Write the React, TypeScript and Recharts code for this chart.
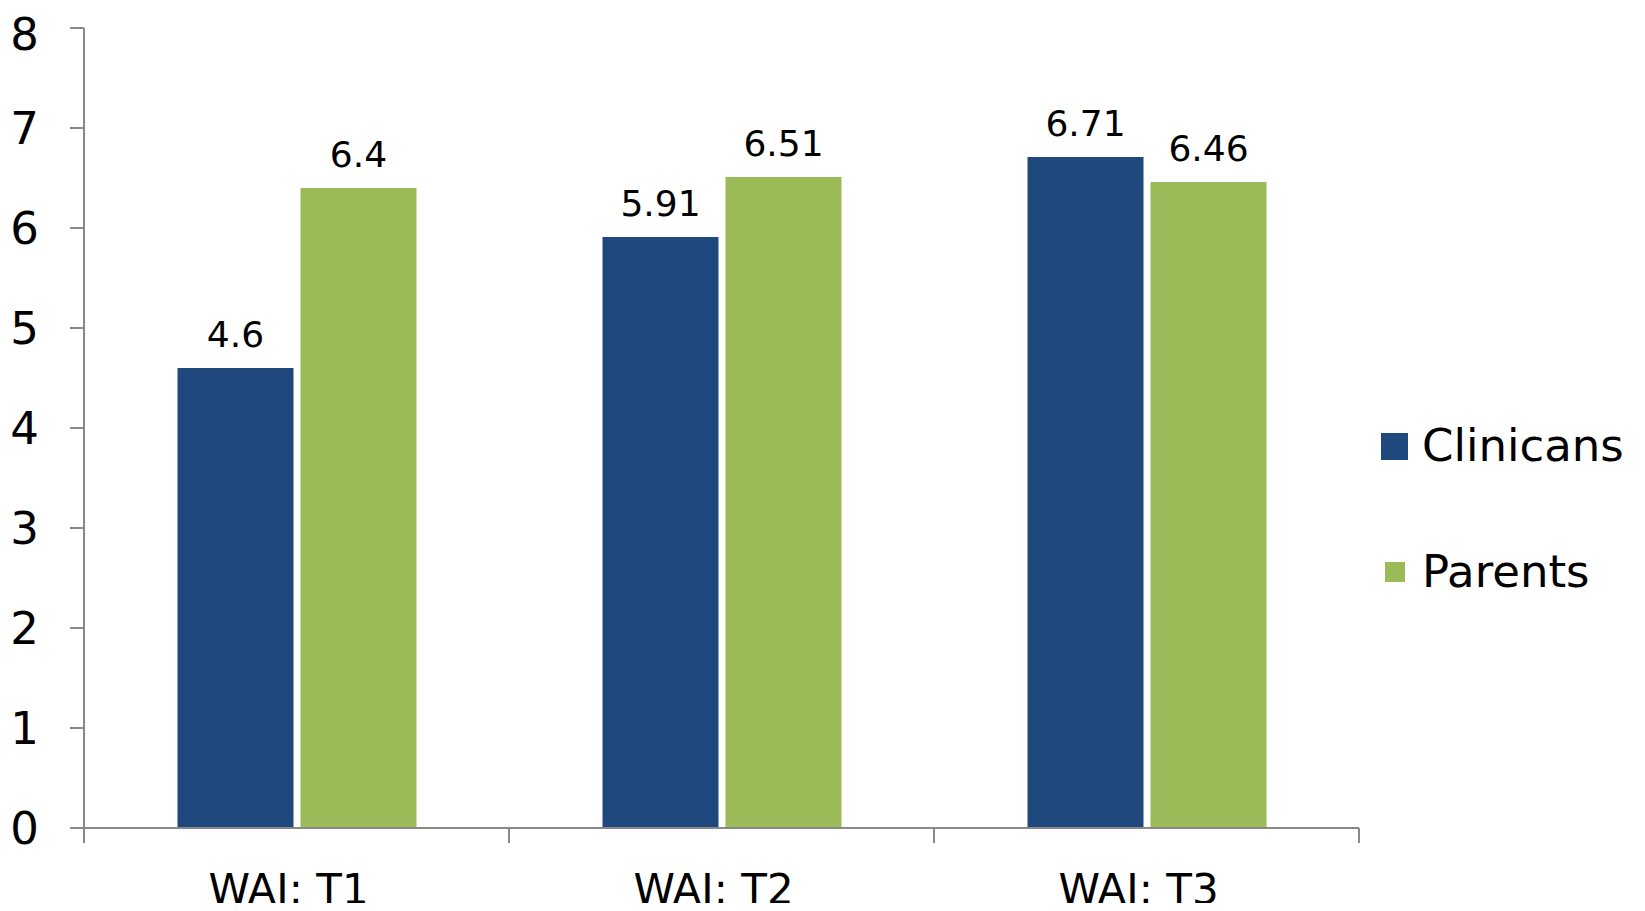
import React from "react";
import { BarChart, Bar, XAxis, YAxis, Legend, LabelList } from "recharts";

const categories = ["WAI: T1", "WAI: T2", "WAI: T3"];
const clinicians = [4.6, 5.91, 6.71];
const parents = [6.4, 6.51, 6.46];
const yTicks = [0, 1, 2, 3, 4, 5, 6, 7, 8];

const BLUE = "#1F497D";
const GREEN = "#9BBB59";
const AXIS = "#898989";
const FONT = "'DejaVu Sans', sans-serif";
const X_TICK_MARGIN = 30;
const X_TICK_LEN = 15;
const X_LABEL_SHIFT = 16;

const data = categories.map((c, i) => ({
  name: c,
  Clinicans: clinicians[i],
  Parents: parents[i],
}));

const legendItems = [
  { label: "Clinicans", color: BLUE, size: 27 },
  { label: "Parents", color: GREEN, size: 20 },
];

const LegendContent = () => (
  <div style={{ display: "flex", flexDirection: "column", gap: 46, fontFamily: FONT }}>
    {legendItems.map((it) => (
      <div key={it.label} style={{ display: "flex", alignItems: "center", height: 80 }}>
        <div style={{ width: 27, height: 27, display: "flex", alignItems: "center", justifyContent: "center" }}>
          <div style={{ width: it.size, height: it.size, background: it.color }} />
        </div>
        <span style={{ marginLeft: 14, fontSize: 45, color: "#000", lineHeight: "80px", whiteSpace: "nowrap" }}>
          {it.label}
        </span>
      </div>
    ))}
  </div>
);

const CategoryTick = (props: any) => {
  const { x, y, payload, index, visibleTicksCount, width } = props;
  const count = visibleTicksCount || categories.length;
  const band = Number(width) / count;
  const axisY = y - X_TICK_MARGIN;
  const lines: number[] = [x - band / 2];
  if (index === count - 1) lines.push(x + band / 2);
  return (
    <g>
      {lines.map((lx, i) => (
        <line key={i} x1={lx} x2={lx} y1={axisY} y2={axisY + X_TICK_LEN} stroke={AXIS} strokeWidth={2} />
      ))}
      <text x={x - 8} y={y + X_LABEL_SHIFT} dy="0.71em" textAnchor="middle" fill="#000" fontSize={42} fontFamily={FONT}>
        {payload.value}
      </text>
    </g>
  );
};

export default function App() {
  return (
    <div style={{ width: 1637, height: 895, position: "relative" }}>
      <BarChart
        width={1637}
        height={895}
        data={data}
        margin={{ top: 20, right: 286, bottom: 0, left: 0 }}
        barCategoryGap="22%"
        barGap={7}
        style={{ fontFamily: FONT }}
      >
        <XAxis
          dataKey="name"
          axisLine={{ stroke: AXIS, strokeWidth: 2 }}
          tickLine={false}
          tickSize={0}
          tickMargin={X_TICK_MARGIN}
          height={75}
          interval={0}
          tick={<CategoryTick />}
        />
        <YAxis
          domain={[0, 8]}
          ticks={yTicks}
          width={76}
          tickSize={14}
          tickMargin={31}
          axisLine={{ stroke: AXIS, strokeWidth: 2 }}
          tickLine={{ stroke: AXIS, strokeWidth: 2 }}
          tick={{ fill: "#000", fontSize: 45, fontFamily: FONT }}
        />
        <Legend
          layout="horizontal"
          verticalAlign="middle"
          align="center"
          content={<LegendContent />}
          wrapperStyle={{ position: "absolute", left: 1373, top: 398, width: "auto" }}
        />
        <Bar dataKey="Clinicans" fill={BLUE} isAnimationActive={false}>
          <LabelList dataKey="Clinicans" position="top" offset={21} fill="#000" fontSize={36} fontFamily={FONT} />
        </Bar>
        <Bar dataKey="Parents" fill={GREEN} isAnimationActive={false}>
          <LabelList dataKey="Parents" position="top" offset={21} fill="#000" fontSize={36} fontFamily={FONT} />
        </Bar>
      </BarChart>
    </div>
  );
}
